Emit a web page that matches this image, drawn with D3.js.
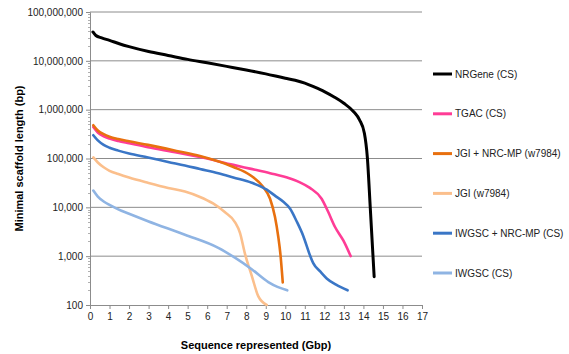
<!DOCTYPE html>
<html>
<head>
<meta charset="utf-8">
<script src="https://cdn.jsdelivr.net/npm/d3@7"></script>
<style>
  body { margin: 0; background: #fff; }
  svg { display: block; font-family: "Liberation Sans", Arial, sans-serif; }
</style>
</head>
<body>
<svg id="chart" width="569" height="354"></svg>
<script>
// x: sequence represented (Gbp), y: minimal scaffold length (bp)
const nrgeneX = [0.15, 0.3, 0.6, 1, 1.5, 2, 3, 4, 5, 6, 7, 8, 9, 10, 10.5, 11, 11.5, 12, 12.5, 13, 13.5, 13.8, 14.05, 14.2, 14.35, 14.55];
const nrgeneY = [3.9e7, 3.3e7, 2.95e7, 2.63e7, 2.24e7, 1.95e7, 1.55e7, 1.29e7, 1.07e7, 9.1e6, 7.7e6, 6.5e6, 5.4e6, 4.4e6, 4.0e6, 3.5e6, 2.9e6, 2.35e6, 1.82e6, 1.35e6, 9.1e5, 6.2e5, 3.3e5, 1.07e5, 1e4, 380];

const tgacX = [0.17, 0.4, 0.7, 1.0, 1.45, 2.0, 2.97, 4.5, 5.63, 7.34, 8.19, 9.22, 10.24, 10.75, 11.26, 11.86, 12.2, 12.54, 12.97, 13.35];
const tgacY = [4.4e5, 3.4e5, 2.85e5, 2.55e5, 2.28e5, 2.05e5, 1.7e5, 1.32e5, 1.07e5, 7.4e4, 6.2e4, 5.0e4, 3.9e4, 3.25e4, 2.5e4, 1.5e4, 8e3, 4e3, 2.1e3, 1000];

const jgiMpX = [0.17, 0.4, 0.7, 1.0, 1.45, 2.0, 2.97, 4.5, 5.63, 7.34, 8.19, 8.87, 9.22, 9.47, 9.64, 9.75, 9.87];
const jgiMpY = [4.8e5, 3.75e5, 3.15e5, 2.8e5, 2.5e5, 2.25e5, 1.9e5, 1.41e5, 1.12e5, 6.7e4, 4.6e4, 2.6e4, 1.5e4, 6.4e3, 2.5e3, 1.1e3, 290];

const jgiX = [0.17, 0.4, 0.7, 1.0, 1.45, 2, 3, 4, 4.86, 5.6, 6.3, 6.9, 7.42, 7.68, 7.94, 8.28, 8.62, 9.05];
const jgiY = [1.05e5, 8.3e4, 6.6e4, 5.6e4, 4.8e4, 4.07e4, 3.16e4, 2.5e4, 2.1e4, 1.65e4, 1.2e4, 8e3, 5e3, 3e3, 1.1e3, 400, 150, 100];

const iwgscMpX = [0.17, 0.4, 0.7, 1.0, 1.45, 2, 2.97, 4, 4.86, 5.63, 6.57, 7.34, 8.28, 9.05, 9.5, 9.9, 10.24, 10.58, 10.92, 11.26, 11.43, 11.8, 12.12, 12.6, 13.19];
const iwgscMpY = [3e5, 2.35e5, 1.9e5, 1.66e5, 1.45e5, 1.26e5, 1.05e5, 8.5e4, 7.2e4, 6.1e4, 5.0e4, 4.1e4, 3.2e4, 2.3e4, 1.7e4, 1.3e4, 9.5e3, 5.2e3, 2.6e3, 1.05e3, 720, 480, 350, 260, 200];

const iwgscX = [0.17, 0.4, 0.7, 1.0, 1.45, 2, 2.97, 4.86, 6.57, 7.42, 8.28, 9.13, 9.6, 10.1];
const iwgscY = [2.2e4, 1.66e4, 1.32e4, 1.12e4, 9.1e3, 7.4e3, 5.2e3, 2.75e3, 1.48e3, 930, 540, 295, 235, 200];

const seriesNames = ["NRGene (CS)", "TGAC (CS)", "JGI + NRC-MP (w7984)", "JGI (w7984)", "IWGSC + NRC-MP (CS)", "IWGSC (CS)"];
const seriesColors = ["#000000", "#ff3c96", "#e8700f", "#fbbf8c", "#3a76c6", "#8fb4e3"];
const seriesX = [nrgeneX, tgacX, jgiMpX, jgiX, iwgscMpX, iwgscX];
const seriesY = [nrgeneY, tgacY, jgiMpY, jgiY, iwgscMpY, iwgscY];

const xTicks = d3.range(0, 18);
const yTicks = [100, 1000, 10000, 100000, 1000000, 10000000, 100000000];

const margin = {left: 90, top: 12, right: 147, bottom: 49};
const width = 569 - margin.left - margin.right;
const height = 354 - margin.top - margin.bottom;

const svg = d3.select("#chart");
const g = svg.append("g").attr("transform", `translate(${margin.left},${margin.top})`);

const x = d3.scaleLinear().domain([0, 17]).range([0, width]);
const y = d3.scaleLog().domain([100, 1e8]).range([height, 0]);

// gridlines
g.append("g")
  .selectAll("line")
  .data(yTicks.slice(1))
  .join("line")
  .attr("x1", 0).attr("x2", width)
  .attr("y1", d => y(d)).attr("y2", d => y(d))
  .attr("stroke", "#8c8c8c")
  .attr("stroke-width", 1);

// minor ticks on y
const minor = [];
for (let e = 2; e < 8; e++) for (let m = 2; m < 10; m++) minor.push(m * Math.pow(10, e));
g.append("g")
  .selectAll("line")
  .data(minor)
  .join("line")
  .attr("x1", -2).attr("x2", 0)
  .attr("y1", d => Math.round(y(d)) + 0.5).attr("y2", d => Math.round(y(d)) + 0.5)
  .attr("stroke", "#b0b0b0");

const yAxis = g.append("g")
  .call(d3.axisLeft(y).tickValues(yTicks).tickSize(4).tickPadding(3).tickFormat(d3.format(",")));
yAxis.select(".domain").attr("stroke", "#8c8c8c");
yAxis.selectAll(".tick line").attr("stroke", "#8c8c8c");
yAxis.selectAll("text").attr("font-size", 10).attr("fill", "#222");

const xAxis = g.append("g")
  .attr("transform", `translate(0,${height})`)
  .call(d3.axisBottom(x).tickValues(xTicks).tickSize(4).tickPadding(4).tickFormat(d3.format("d")));
xAxis.select(".domain").attr("stroke", "#8c8c8c");
xAxis.selectAll(".tick line").attr("stroke", "#8c8c8c");
xAxis.selectAll("text").attr("font-size", 10).attr("fill", "#222");

// series
const line = d3.line()
  .curve(d3.curveMonotoneX)
  .x(d => x(d[0]))
  .y(d => y(d[1]));

seriesNames.forEach((name, i) => {
  const pts = seriesX[i].map((v, j) => [v, seriesY[i][j]]);
  g.append("path")
    .attr("d", line(pts))
    .attr("fill", "none")
    .attr("stroke", seriesColors[i])
    .attr("stroke-width", i === 0 ? 3 : 2.6)
    .attr("stroke-linejoin", "round")
    .attr("stroke-linecap", "round");
});

// legend
const legend = svg.append("g").attr("transform", "translate(433,74)");
const rows = legend.selectAll("g")
  .data(seriesNames)
  .join("g")
  .attr("transform", (d, i) => `translate(0,${i * 39.8})`);
rows.append("line")
  .attr("x1", 0).attr("x2", 19)
  .attr("stroke", (d, i) => seriesColors[i])
  .attr("stroke-width", 3);
rows.append("text")
  .attr("x", 22).attr("y", 0).attr("dy", "0.35em")
  .attr("font-size", 10).attr("fill", "#222")
  .text(d => d);

// axis titles
svg.append("text")
  .attr("transform", `translate(23,${margin.top + height / 2}) rotate(-90)`)
  .attr("text-anchor", "middle")
  .attr("font-size", 11).attr("font-weight", "bold")
  .text("Minimal scaffold length (bp)");

svg.append("text")
  .attr("x", margin.left + width / 2).attr("y", 349)
  .attr("text-anchor", "middle")
  .attr("font-size", 11).attr("font-weight", "bold")
  .text("Sequence represented (Gbp)");
</script>
</body>
</html>
